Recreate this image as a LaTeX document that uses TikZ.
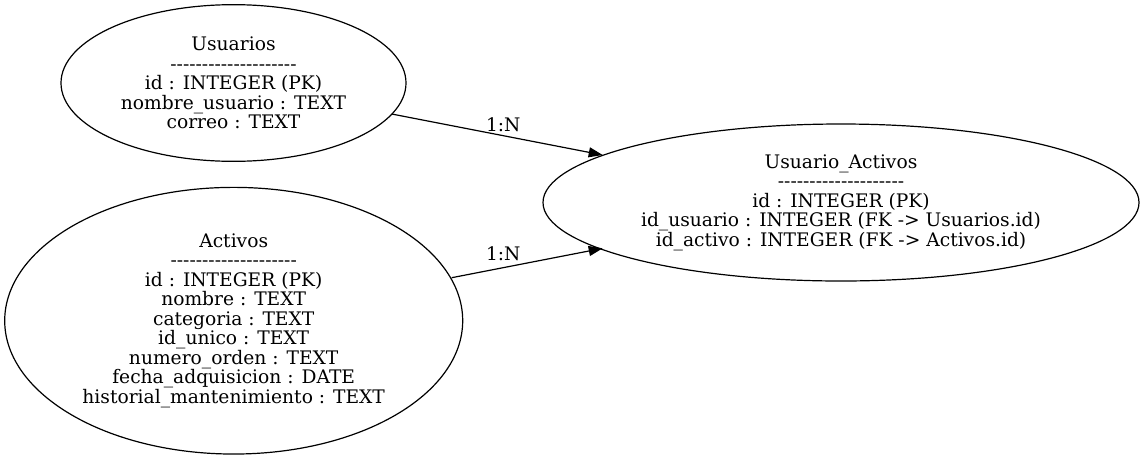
\documentclass[tikz,border=0pt]{standalone}
\usepackage{fontspec}
\setmainfont{DejaVu Serif}
\usetikzlibrary{shapes.geometric,arrows.meta}
\newcommand\dashrow{-{}-{}-{}-{}-{}-{}-{}-{}-{}-{}-{}-{}-{}-{}-{}-{}-{}-{}-{}-}
\tikzset{
  entity/.style={draw=black, line width=0.9pt, ellipse, inner sep=0pt, align=center,
    font=\fontsize{14}{14.6}\selectfont},
  rel/.style={draw=black, line width=0.9pt, -{Triangle[length=10.5pt,width=7.5pt]}},
  lbl/.style={font=\fontsize{14}{14.6}\selectfont, inner sep=0pt}
}
\begin{document}
\begin{tikzpicture}[x=0.75pt,y=-0.75pt]
\useasboundingbox (0,0) rectangle (1144,461);
\node[entity, minimum width=258.75pt, minimum height=117.5pt] (usu) at (233.5,83)
  {Usuarios\\\dashrow\\id : INTEGER (PK)\\nombre\_usuario : TEXT\\correo : TEXT};
\node[entity, minimum width=343.5pt, minimum height=200pt] (act) at (233.7,320.7)
  {Activos\\\dashrow\\id : INTEGER (PK)\\nombre : TEXT\\categoria : TEXT\\id\_unico : TEXT\\numero\_orden : TEXT\\fecha\_adquisicion : DATE\\historial\_mantenimiento : TEXT};
\node[entity, minimum width=447pt, minimum height=117.75pt] (ua) at (841,202.5)
  {Usuario\_Activos\\\dashrow\\id : INTEGER (PK)\\id\_usuario : INTEGER (FK -> Usuarios.id)\\id\_activo : INTEGER (FK -> Activos.id)};
\coordinate (s1) at (391.7,114);
\coordinate (t1) at (602.7,155);
\coordinate (s2) at (451.7,277.7);
\coordinate (t2) at (602.7,248.3);
\draw[rel] (s1) -- (t1);
\draw[rel] (s2) -- (t2);
\node[lbl] (l1) at (503.3,125) {1:N};
\node[lbl] (l2) at (503.3,254) {1:N};
\end{tikzpicture}
\end{document}
